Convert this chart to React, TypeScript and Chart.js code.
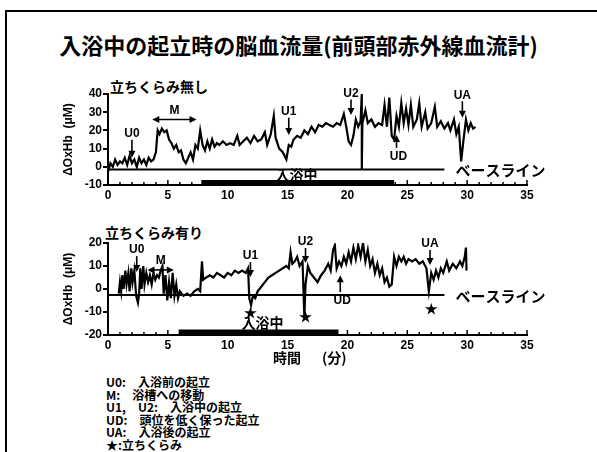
import React, { useEffect, useRef } from 'react';
import { Chart, registerables } from 'chart.js';
Chart.register(...registerables);

// ---------- data ----------
const xTickLabels = ['0', '5', '10', '15', '20', '25', '30', '35'];
const yTicks1 = [-10, 0, 10, 20, 30, 40];
const yTicks2 = [-20, -10, 0, 10, 20];

// Chart 1: 立ちくらみ無し
const time1 = [
  0.0, 0.2, 0.4, 0.6, 0.8, 1.0, 1.2, 1.4, 1.6, 1.8, 2.0, 2.2, 2.4, 2.6, 2.8, 3.0, 3.2, 3.4, 3.6, 3.8,
  4.0, 4.15, 4.3, 4.5, 4.7, 4.9, 5.1, 5.3, 5.5, 5.7, 5.9, 6.1, 6.3, 6.5, 6.7, 6.9, 7.1, 7.3, 7.5, 7.7,
  7.9, 8.1, 8.3, 8.5, 8.7, 8.9, 9.1, 9.3, 9.6, 9.9, 10.2, 10.5, 10.8, 11.0, 11.3, 11.6, 11.9, 12.2, 12.5, 12.8,
  13.1, 13.3, 13.6, 13.85, 14.0, 14.3, 14.6, 14.9, 15.1, 15.3, 15.5, 15.8, 16.1, 16.4, 16.7, 17.0, 17.3, 17.6, 17.9, 18.2,
  18.5, 18.8, 19.1, 19.4, 19.7, 19.9, 20.1, 20.3, 20.5, 20.7, 20.9, 21.1, 21.2, 21.2, 21.25, 21.5, 21.7, 22.0, 22.3, 22.6,
  22.9, 23.1, 23.3, 23.5, 23.7, 23.9, 24.1, 24.3, 24.5, 24.7, 24.9, 25.1, 25.3, 25.5, 25.8, 26.0, 26.2, 26.5, 26.7, 27.0,
  27.3, 27.5, 27.8, 28.1, 28.4, 28.6, 28.9, 29.1, 29.3, 29.5, 29.7, 29.9, 30.1, 30.3, 30.5, 30.7,
];
const value1 = [
  -3, 2, 0, 4, 1, 3, 2, 5, 1, 6, 2, 4, 0, 5, 2, 4, 1, 5, 3, 4,
  8, 20, 18, 21, 19, 20, 15, 13, 10, 12, 8, 9, 4, 2, 5, 8, 4, 12, 10, 20,
  12, 9, 14, 10, 15, 11, 13, 12, 14, 12, 13, 12, 17, 12, 14, 16, 13, 17, 14, 15,
  19, 12, 18, 28, 16, 10, 8, 4, 12, 11, 15, 17, 16, 20, 18, 22, 19, 23, 22, 24,
  23, 22, 24, 23, 29, 22, 14, 12, 17, 26, 22, 25, 40, -1.5, 24, 31, 24, 26, 22, 24,
  23, 34, 22, 38, 17, 15, 28, 22, 35, 24, 32, 23, 34, 22, 26, 35, 22, 30, 21, 24,
  33, 22, 25, 21, 24, 20, 26, 18, 22, 3, 15, 26, 20, 24, 21, 22,
];

// Chart 2: 立ちくらみ有り
const time2 = [
  0.9, 1.0, 1.1, 1.2, 1.3, 1.45, 1.55, 1.7, 1.8, 1.95, 2.05, 2.2, 2.35, 2.5, 2.6, 2.7, 2.8, 2.95, 3.05, 3.2,
  3.35, 3.5, 3.65, 3.8, 3.95, 4.1, 4.25, 4.4, 4.55, 4.65, 4.8, 4.95, 5.1, 5.25, 5.4, 5.55, 5.7, 5.85, 6.0, 6.3,
  6.6, 6.9, 7.2, 7.5, 7.7, 7.85, 7.95, 8.2, 8.5, 8.8, 9.1, 9.4, 9.7, 10.0, 10.3, 10.6, 10.9, 11.2, 11.5, 11.7,
  11.8, 11.95, 12.1, 12.3, 12.5, 12.8, 13.1, 13.4, 13.7, 14.0, 14.3, 14.6, 14.9, 15.1, 15.25, 15.4, 15.6, 15.8, 16.0, 16.25,
  16.4, 16.5, 16.7, 16.9, 17.2, 17.5, 17.8, 18.1, 18.4, 18.6, 18.8, 18.95, 19.1, 19.3, 19.5, 19.7, 19.9, 20.1, 20.3, 20.5,
  20.7, 20.9, 21.1, 21.3, 21.5, 21.7, 21.9, 22.1, 22.3, 22.5, 22.7, 22.9, 23.1, 23.3, 23.5, 23.7, 23.9, 24.1, 24.3, 24.5,
  24.7, 24.9, 25.1, 25.4, 25.7, 26.0, 26.3, 26.6, 26.8, 27.0, 27.2, 27.4, 27.6, 27.8, 28.0, 28.3, 28.5, 28.8, 29.1, 29.4,
  29.6, 29.8, 29.9, 29.95,
];
const value2 = [
  -2, 3, -1, 6, 0, 8, 2, 7, -1, 9, 3, 8, -3, -6, -2, 9, 0, 10, 2, 7,
  3, 6, 2, 7, 4, 6, 5, 8, 10, -2, 6, -5, 3, -4, 7, -3, 2, -4, -1, -3,
  -2, -3, -1, 0, -1, 12, 4, 5, 6, 5, 7, 6, 5, 7, 6, 8, 7, 8, 7, 9,
  -4, -7, -3, -4, -1, 1, 3, 5, 6, 7, 8, 9, 10, 9, 16, 11, 12, 14, 10, 12,
  -12, 2, 10, 7, 5, 3, 6, 8, 11, 8, 17, 19, 9, 12, 10, 14, 11, 16, 12, 18,
  13, 19, 14, 20, 12, 17, 10, 13, 7, 11, 6, 9, 3, 5, 1, 2, 14, 10, 14, 12,
  14, 11, 13, 12, 13, 11, 12, 9, -1, 7, 4, 8, 5, 9, 7, 12, 8, 11, 9, 12,
  10, 14, 18, 8,
];

// annotations (data coordinates)
const downArrows1 = [
  { label: 'U0', t: 2.0, from: 14.8, to: 5 },
  { label: 'U1', t: 15.1, from: 27, to: 17.5 },
  { label: 'U2', t: 20.3, from: 37, to: 28.5 },
  { label: 'UA', t: 29.6, from: 36, to: 27 },
];
const upArrows1 = [{ label: 'UD', t: 24.1, from: 10.4, to: 17.5 }];
const moveArrow1 = { label: 'M', t1: 3.7, t2: 7.4, v: 26 };
const baseline1 = { v: -1.5, end: 28.1 };
const bath1 = { t1: 7.8, t2: 23.9, v: -8.6, textT: 15.75, textV: -4.3 };
const stars1: { t: number; v: number }[] = [];

const downArrows2 = [
  { label: 'U0', t: 2.4, from: 14.3, to: 7.4 },
  { label: 'U1', t: 11.9, from: 11.7, to: 5.2 },
  { label: 'U2', t: 16.5, from: 17.8, to: 11.3 },
  { label: 'UA', t: 26.9, from: 17, to: 10.4 },
];
const upArrows2 = [{ label: 'UD', t: 19.4, from: -1.3, to: 6 }];
const moveArrow2 = { label: 'M', t1: 3.3, t2: 5.5, v: 8.3 };
const baseline2 = { v: -2.6, end: 28.1 };
const bath2 = { t1: 5.9, t2: 19.25, v: -18.7, textT: 12.9, textV: -14.8 };
const stars2 = [
  { t: 11.9, v: -10 },
  { t: 16.5, v: -11.7 },
  { t: 27.0, v: -8.3 },
];

const legendLines = [
  'U0:　入浴前の起立',
  'M:　浴槽への移動',
  'U1,　U2:　入浴中の起立',
  'UD:　頭位を低く保った起立',
  'UA:　入浴後の起立',
  '★:立ちくらみ',
];

// ---------- drawing ----------
const LFONT = '"Liberation Sans", Arial, sans-serif';
const JFONT = '"Noto Sans CJK JP", "Noto Sans CJK SC", sans-serif';

function makeAnnotPlugin(cfg: any) {
  return {
    id: 'annot',
    afterDraw(chart: any) {
      const ctx = chart.ctx;
      const xs = chart.scales.x;
      const ys = chart.scales.y;
      const X = (t: number) => xs.getPixelForValue(t);
      const Y = (v: number) => ys.getPixelForValue(v);
      const area = chart.chartArea;
      ctx.save();
      ctx.strokeStyle = '#000';
      ctx.fillStyle = '#000';

      // x minor ticks (inward)
      ctx.lineWidth = 1.5;
      for (let i = 0; i <= 35; i++) {
        const px = X(i);
        ctx.beginPath();
        ctx.moveTo(px, area.bottom);
        ctx.lineTo(px, area.bottom - (i % 5 === 0 ? 5 : 3));
        ctx.stroke();
      }

      // y axis title
      ctx.save();
      ctx.translate(69, (area.top + area.bottom) / 2);
      ctx.rotate(-Math.PI / 2);
      ctx.font = 'bold 12px ' + LFONT;
      ctx.textAlign = 'center';
      ctx.textBaseline = 'middle';
      ctx.fillText('ΔOxHb  (μM)', 0, 0);
      ctx.restore();

      // baseline
      ctx.lineWidth = 2;
      ctx.beginPath();
      ctx.moveTo(area.left, Y(cfg.baseline.v));
      ctx.lineTo(X(cfg.baseline.end), Y(cfg.baseline.v));
      ctx.stroke();
      ctx.font = 'bold 15px ' + JFONT;
      ctx.textAlign = 'left';
      ctx.textBaseline = 'middle';
      ctx.fillText('ベースライン', X(cfg.baseline.end) + 11, Y(cfg.baseline.v) + 1);

      // bath bar
      ctx.lineWidth = 5;
      ctx.beginPath();
      ctx.moveTo(X(cfg.bath.t1), Y(cfg.bath.v));
      ctx.lineTo(X(cfg.bath.t2), Y(cfg.bath.v));
      ctx.stroke();
      ctx.font = 'bold 14px ' + JFONT;
      ctx.textAlign = 'center';
      ctx.textBaseline = 'middle';
      ctx.fillText('入浴中', X(cfg.bath.textT), Y(cfg.bath.textV));

      const head = (x: number, y: number, dir: number) => {
        ctx.beginPath();
        ctx.moveTo(x, y);
        ctx.lineTo(x - 3.5, y - dir * 7);
        ctx.lineTo(x + 3.5, y - dir * 7);
        ctx.closePath();
        ctx.fill();
      };
      ctx.font = 'bold 12px ' + LFONT;
      ctx.lineWidth = 1.6;
      for (const a of cfg.down) {
        const x = X(a.t);
        const y0 = Y(a.from);
        const y1 = Y(a.to);
        ctx.beginPath();
        ctx.moveTo(x, y0);
        ctx.lineTo(x, y1 - 5);
        ctx.stroke();
        head(x, y1, 1);
        ctx.textAlign = 'center';
        ctx.textBaseline = 'bottom';
        ctx.fillText(a.label, x, y0);
      }
      for (const a of cfg.up) {
        const x = X(a.t);
        const y0 = Y(a.from);
        const y1 = Y(a.to);
        ctx.beginPath();
        ctx.moveTo(x, y0);
        ctx.lineTo(x, y1 + 5);
        ctx.stroke();
        head(x, y1, -1);
        ctx.textAlign = 'center';
        ctx.textBaseline = 'top';
        ctx.fillText(a.label, x + 2, y0 + 3);
      }
      // move arrow (double headed)
      {
        const m = cfg.move;
        const xa = X(m.t1);
        const xb = X(m.t2);
        const y = Y(m.v);
        ctx.beginPath();
        ctx.moveTo(xa + 5, y);
        ctx.lineTo(xb - 5, y);
        ctx.stroke();
        ctx.beginPath();
        ctx.moveTo(xa, y);
        ctx.lineTo(xa + 7, y - 3.5);
        ctx.lineTo(xa + 7, y + 3.5);
        ctx.closePath();
        ctx.fill();
        ctx.beginPath();
        ctx.moveTo(xb, y);
        ctx.lineTo(xb - 7, y - 3.5);
        ctx.lineTo(xb - 7, y + 3.5);
        ctx.closePath();
        ctx.fill();
        ctx.textAlign = 'center';
        ctx.textBaseline = 'bottom';
        ctx.fillText(m.label, (xa + xb) / 2, y - 3);
      }
      // stars
      ctx.font = 'bold 13px ' + JFONT;
      ctx.textAlign = 'center';
      ctx.textBaseline = 'middle';
      for (const s of cfg.stars) ctx.fillText('★', X(s.t), Y(s.v));
      ctx.restore();
    },
  };
}

function LineChart(props: {
  time: number[];
  values: number[];
  yMin: number;
  yMax: number;
  yTicks: number[];
  annot: any;
  top: number;
  height: number;
}) {
  const ref = useRef<HTMLCanvasElement>(null);
  useEffect(() => {
    const data = props.time.map((t, i) => ({ x: t, y: props.values[i] }));
    const chart = new Chart(ref.current!, {
      type: 'line',
      data: {
        datasets: [
          {
            data,
            borderColor: '#000',
            borderWidth: 2.2,
            pointRadius: 0,
            tension: 0,
            fill: false,
          },
        ],
      },
      options: {
        responsive: false,
        animation: false,
        layout: { padding: { left: 0, right: 70, top: 10, bottom: 0 } },
        plugins: { legend: { display: false }, tooltip: { enabled: false } },
        scales: {
          x: {
            type: 'linear',
            min: 0,
            max: 35,
            afterFit: (s: any) => {
              s.height = 24;
            },
            afterBuildTicks: (s: any) => {
              s.ticks = xTickLabels.map((l) => ({ value: Number(l) }));
            },
            ticks: {
              color: '#000',
              font: { family: LFONT, size: 12, weight: 'bold' },
              padding: 3,
              maxRotation: 0,
              autoSkip: false,
              callback: (v: any) => String(v),
            },
            grid: { display: false, drawTicks: false },
            border: { display: true, color: '#000', width: 2 },
          },
          y: {
            min: props.yMin,
            max: props.yMax,
            afterFit: (s: any) => {
              s.width = 108;
            },
            afterBuildTicks: (s: any) => {
              s.ticks = props.yTicks.map((v) => ({ value: v }));
            },
            ticks: {
              color: '#000',
              font: { family: LFONT, size: 12, weight: 'bold' },
              padding: 1,
              autoSkip: false,
            },
            grid: { drawOnChartArea: false, tickLength: 5, color: '#000', lineWidth: 2 },
            border: { display: true, color: '#000', width: 2 },
          },
        },
      } as any,
      plugins: [makeAnnotPlugin(props.annot)],
    });
    return () => chart.destroy();
  }, []);
  return (
    <canvas
      ref={ref}
      width={597}
      height={props.height}
      style={{ position: 'absolute', left: 0, top: props.top, width: 597, height: props.height }}
    />
  );
}

export default function App() {
  const jbold: React.CSSProperties = {
    position: 'absolute',
    fontFamily: JFONT,
    fontWeight: 700,
    color: '#000',
    whiteSpace: 'nowrap',
    lineHeight: 1,
  };
  return (
    <div style={{ position: 'absolute', left: 0, top: 0, width: 597, height: 452, background: '#fff', overflow: 'hidden' }}>
      <div style={{ position: 'absolute', left: 5, top: 10, width: 600, height: 460, borderLeft: '2px solid #000', borderTop: '2px solid #000' }} />
      <div style={{ ...jbold, left: 0, width: 597, top: 33, textAlign: 'center', fontSize: 22 }}>
        入浴中の起立時の脳血流量(前頭部赤外線血流計)
      </div>
      <div style={{ ...jbold, left: 110, top: 79, fontSize: 14 }}>立ちくらみ無し</div>
      <div style={{ ...jbold, left: 105, top: 225, fontSize: 14 }}>立ちくらみ有り</div>
      <LineChart
        time={time1}
        values={value1}
        yMin={-10}
        yMax={40}
        yTicks={yTicks1}
        top={84}
        height={125}
        annot={{ down: downArrows1, up: upArrows1, move: moveArrow1, baseline: baseline1, bath: bath1, stars: stars1 }}
      />
      <LineChart
        time={time2}
        values={value2}
        yMin={-20}
        yMax={20}
        yTicks={yTicks2}
        top={233}
        height={126}
        annot={{ down: downArrows2, up: upArrows2, move: moveArrow2, baseline: baseline2, bath: bath2, stars: stars2 }}
      />
      <div style={{ ...jbold, left: 273, top: 350, fontSize: 14 }}>時間</div>
      <div style={{ ...jbold, left: 322, top: 350, fontSize: 14 }}>(分)</div>
      <div style={{ position: 'absolute', left: 106, top: 376 }}>
        {legendLines.map((l, i) => (
          <div key={i} style={{ fontFamily: JFONT, fontWeight: 700, fontSize: 12, lineHeight: '12.6px', whiteSpace: 'pre' }}>
            {l}
          </div>
        ))}
      </div>
    </div>
  );
}
